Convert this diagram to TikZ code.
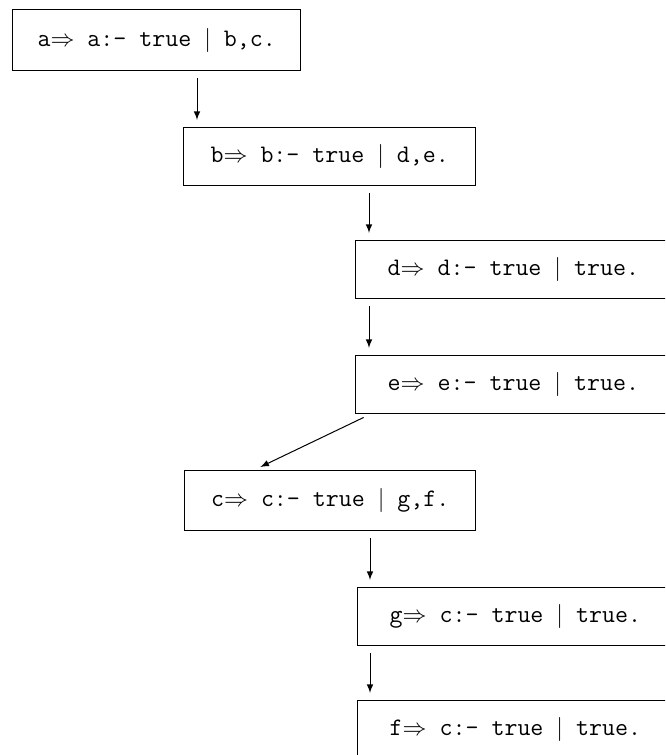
\documentclass[tikz,border=0pt]{standalone}
\usepackage{amsmath}
\usepackage{amssymb}
\usetikzlibrary{arrows}
\usetikzlibrary{calc}

\newcommand{\guard}{\ $|$\ }

\tikzset{
    goal/.style={draw,rectangle,anchor=north west,line width=0.7pt,inner xsep=11pt,minimum height=#1,font=\fontsize{12.6}{15}\selectfont\ttfamily},
    goal/.default=29pt,
    rgoal/.style={goal,inner xsep=0pt},
    link/.style={->,>=latex,line width=0.5pt,shorten <=3.5pt,shorten >=3.5pt}
}

\begin{document}
\begin{tikzpicture}[x=0.5pt,y=-0.5pt]
    \clip (0,0) rectangle (665,755);

    \node[goal=30.5pt,minimum width=144pt] (a) at (12,9) {a$\Rightarrow$\ a:-\ true\guard b,c.};
    \node[goal,minimum width=146pt] (b) at (183,127) {b$\Rightarrow$\ b:-\ true\guard d,e.};
    \node[rgoal] (d) at (355,240) {\hspace*{16pt}d$\Rightarrow$\ d:-\ true\guard true.\hspace*{30pt}};
    \node[rgoal] (e) at (355,355) {\hspace*{16pt}e$\Rightarrow$\ e:-\ true\guard true.\hspace*{30pt}};
    \node[goal=30pt,minimum width=145.5pt] (c) at (184,470) {c$\Rightarrow$\ c:-\ true\guard g,f.};
    \node[rgoal] (g) at (357,587) {\hspace*{16pt}g$\Rightarrow$\ c:-\ true\guard true.\hspace*{30pt}};
    \node[rgoal] (f) at (357,700) {\hspace*{16pt}f$\Rightarrow$\ c:-\ true\guard true.\hspace*{30pt}};

    \draw[link] ([xshift=7pt]b.north west |- a.south) -- ([xshift=7pt]b.north west);
    \draw[link] ([xshift=7pt]d.north west |- b.south) -- ([xshift=7pt]d.north west);
    \draw[link] ([xshift=7pt]e.north west |- d.south) -- ([xshift=7pt]e.north west);
    \draw[link] ([xshift=7.5pt]e.south west) -- ([xshift=35pt]c.north west);
    \draw[link] ([xshift=6.5pt]g.north west |- c.south) -- ([xshift=6.5pt]g.north west);
    \draw[link] ([xshift=6.5pt]f.north west |- g.south) -- ([xshift=6.5pt]f.north west);
\end{tikzpicture}
\end{document}
